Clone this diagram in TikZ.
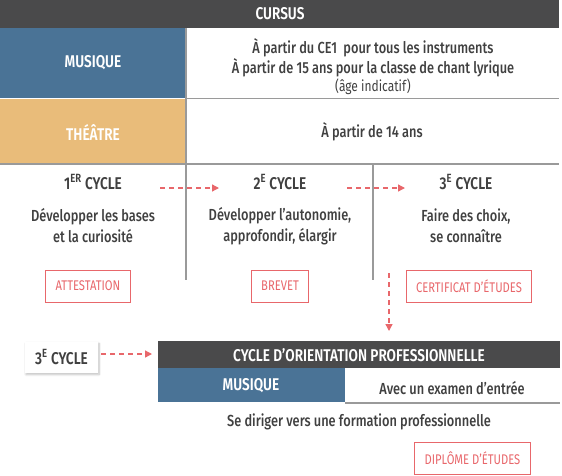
\documentclass[tikz,border=0pt]{standalone}
\usepackage{fontspec}
\setmainfont{Fira Sans}[FakeStretch=0.8, UprightFont=* Medium, BoldFont=* SemiBold]
\newfontfamily\lightfont{Fira Sans}[FakeStretch=0.8]
\usetikzlibrary{arrows.meta,shadows.blur}
\definecolor{bardark}{HTML}{4A4A4B}
\definecolor{musblue}{HTML}{4A7396}
\definecolor{theorange}{HTML}{E9BC7A}
\definecolor{pinkred}{HTML}{E8676B}
\definecolor{txtgray}{HTML}{404040}
\definecolor{linegray}{HTML}{9A9A9A}
\tikzset{
  txt/.style={text=txtgray, font=\fontsize{16}{21}\selectfont, align=center, inner sep=0pt},
  head/.style={text=txtgray, font=\bfseries\fontsize{17}{20}\selectfont, inner sep=0pt},
  whitehead/.style={text=white, font=\bfseries\fontsize{17}{20}\selectfont, inner sep=0pt},
  block/.style={anchor=north west, inner sep=0pt, outer sep=0pt},
  diploma/.style={draw=pinkred, line width=1pt, text=pinkred, font=\lightfont\fontsize{14}{16}\selectfont, minimum height=32pt, inner xsep=10pt, inner ysep=0pt},
  flow/.style={pinkred, line width=1.3pt, dash pattern=on 5pt off 4pt, -{Triangle[length=7pt,width=7pt]}},
  rulestyle/.style={linegray, line width=1.3pt},
}
\begin{document}
\begin{tikzpicture}[x=1pt,y=-1pt]
\useasboundingbox (0,0) rectangle (562,475);
% top bar
\node[block, fill=bardark, minimum width=559pt, minimum height=28pt] (cursusbar) at (0,0) {};
\node[whitehead] (cursus) at (280,14) {CURSUS};
% musique block
\node[block, fill=musblue, minimum width=186pt, minimum height=70pt] (musblock) at (0,28) {};
\node[whitehead] (mus) at (93,63) {MUSIQUE};
\node[txt] (mus1) at (373,48) {À partir du CE1~~pour tous les instruments};
\node[txt] (mus2) at (373,68) {À partir de 15 ans pour la classe de chant lyrique};
\node[txt, font=\lightfont\fontsize{15}{17}\selectfont] (mus3) at (373,87) {(âge indicatif)};
% theatre block
\node[block, fill=theorange, minimum width=186pt, minimum height=65pt] (theblock) at (0,98.5) {};
\node[whitehead] (the) at (93,132) {THÉÂTRE};
\node[txt] (the1) at (372,132) {À partir de 14 ans};
% rules
\coordinate (r1a) at (186,98.5); \coordinate (r1b) at (559,98.5);
\coordinate (r2a) at (0,164); \coordinate (r2b) at (559,164);
\coordinate (v1a) at (186,28); \coordinate (v1b) at (186,280);
\coordinate (v2a) at (373,164); \coordinate (v2b) at (373,280);
\draw[rulestyle] (r1a) -- (r1b);
\draw[rulestyle] (r2a) -- (r2b);
\draw[rulestyle] (v1a) -- (v1b);
\draw[rulestyle] (v2a) -- (v2b);
% cycles
\node[head] (c1) at (93,182) {1\textsuperscript{ER} CYCLE};
\node[head] (c2) at (280,182) {2\textsuperscript{E} CYCLE};
\node[head] (c3) at (466,182) {3\textsuperscript{E} CYCLE};
\node[txt] (d1) at (93,226) {Développer les bases\\et la curiosité};
\node[txt] (d2) at (280,226) {Développer l’autonomie,\\approfondir, élargir};
\node[txt] (d3) at (466,226) {Faire des choix,\\se connaître};
\node[diploma] (b1) at (88,286) {ATTESTATION};
\node[diploma] (b2) at (280,286) {BREVET};
\node[diploma] (b3) at (469,286) {CERTIFICAT D’ÉTUDES};
\coordinate (a1s) at (160,188); \coordinate (a1e) at (219,188);
\coordinate (a2s) at (347,188); \coordinate (a2e) at (405,188);
\draw[flow] (a1s) -- (a1e);
\draw[flow] (a2s) -- (a2e);
\coordinate (a3s) at (389,273); \coordinate (a3e) at (389,331);
\draw[flow] (a3s) -- (a3e);
% bottom
\node[fill=white, blur shadow={shadow blur steps=8, shadow xshift=1pt, shadow yshift=-2pt, shadow opacity=25}, minimum width=73pt, minimum height=31pt, head] (c3b) at (61.5,357) {3\textsuperscript{E} CYCLE};
\node[block, fill=bardark, minimum width=402pt, minimum height=27pt] (cobar) at (158,341) {};
\node[whitehead] (co) at (359,355) {CYCLE D’ORIENTATION PROFESSIONNELLE};
\coordinate (a4s) at (101,354); \coordinate (a4e) at (152,354);
\draw[flow] (a4s) -- (a4e);
\node[block, fill=musblue, minimum width=187pt, minimum height=34pt] (comus) at (158,368) {};
\node[whitehead] (comust) at (251,386) {MUSIQUE};
\node[txt] (exam) at (452,388) {Avec un examen d’entrée};
\coordinate (r3a) at (345,403); \coordinate (r3b) at (560,403);
\draw[rulestyle] (r3a) -- (r3b);
\node[txt] (pro) at (359,422) {Se diriger vers une formation professionnelle};
\node[diploma] (b4) at (472.5,458.5) {DIPLÔME D’ÉTUDES};
\end{tikzpicture}
\end{document}
